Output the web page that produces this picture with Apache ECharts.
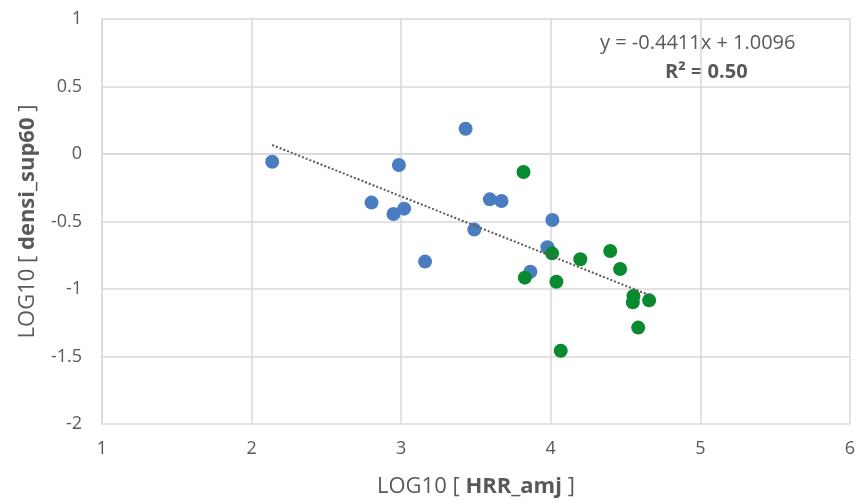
<!DOCTYPE html>
<html>
<head>
<meta charset="utf-8">
<script src="https://cdn.jsdelivr.net/npm/echarts@6/dist/echarts.min.js"></script>
<style>
  html, body { margin: 0; padding: 0; background: #fff; }
  #chart { width: 858px; height: 504px; }
</style>
</head>
<body>
<div id="chart"></div>
<script>
// Group 1 (blue)
const blueX = [2.138, 2.985, 3.431, 2.802, 2.949, 3.020, 3.593, 3.671, 3.489, 3.160, 3.864, 4.011, 3.978];
const blueY = [-0.057, -0.081, 0.187, -0.360, -0.444, -0.405, -0.336, -0.348, -0.560, -0.797, -0.872, -0.489, -0.691];
// Group 2 (green)
const greenX = [3.818, 4.009, 4.198, 4.398, 4.464, 3.827, 4.038, 4.553, 4.549, 4.658, 4.585, 4.067];
const greenY = [-0.133, -0.736, -0.780, -0.718, -0.852, -0.916, -0.946, -1.052, -1.099, -1.084, -1.286, -1.457];
// Linear fit over all points
const trendSlope = -0.4411;
const trendIntercept = 1.0096;
const trendR2 = 0.50;
// Axis ticks
const xTicks = [1, 2, 3, 4, 5, 6];
const yTicks = [-2, -1.5, -1, -0.5, 0, 0.5, 1];

const font = '"Open Sans", "Noto Sans", sans-serif';
const grey = '#595959';
const gridColor = '#d9d9d9';

const allX = blueX.concat(greenX);
const xMin = Math.min(...allX), xMax = Math.max(...allX);
const trendData = [xMin, xMax].map(x => [x, trendSlope * x + trendIntercept]);

const titleRich = {
  n: { fontSize: 22, color: grey, fontFamily: font },
  b: { fontSize: 22, color: grey, fontWeight: 'bold', fontFamily: font }
};

const chart = echarts.init(document.getElementById('chart'));
chart.setOption({
  animation: false,
  textStyle: { fontFamily: font },
  grid: { left: 102, top: 19, width: 750, height: 405 },
  xAxis: {
    type: 'value',
    min: xTicks[0], max: xTicks[xTicks.length - 1], interval: 1,
    axisLine: { show: true, lineStyle: { color: gridColor, width: 1.5 } },
    axisTick: { show: false },
    splitLine: { show: true, lineStyle: { color: gridColor, width: 1.5 } },
    axisLabel: { color: grey, fontSize: 18, margin: 16, fontFamily: font },
    name: '{n|LOG10 [ }{b|HRR_amj}{n| ]}',
    nameLocation: 'middle',
    nameGap: 52,
    nameTextStyle: { rich: titleRich }
  },
  yAxis: {
    type: 'value',
    min: yTicks[0], max: yTicks[yTicks.length - 1], interval: 0.5,
    axisLine: { show: true, lineStyle: { color: gridColor, width: 1.5 } },
    axisTick: { show: false },
    splitLine: { show: true, lineStyle: { color: gridColor, width: 1.5 } },
    axisLabel: { color: grey, fontSize: 18, margin: 20, fontFamily: font },
    name: '{n|LOG10 [ }{b|densi_sup60}{n| ]}',
    nameLocation: 'middle',
    nameGap: 63,
    nameTextStyle: { rich: titleRich }
  },
  series: [
    {
      type: 'scatter',
      symbolSize: 14,
      itemStyle: { color: '#4A7DC0', opacity: 1 },
      data: blueX.map((x, i) => [x, blueY[i]]),
      z: 2
    },
    {
      type: 'scatter',
      symbolSize: 14,
      itemStyle: { color: '#0A8A2E', opacity: 1 },
      data: greenX.map((x, i) => [x, greenY[i]]),
      z: 3
    },
    {
      type: 'line',
      data: trendData,
      symbol: 'none',
      lineStyle: { color: '#595959', width: 2, type: 'dotted' },
      z: 4
    }
  ],
  graphic: [
    {
      type: 'text',
      left: 600, top: 33,
      style: {
        text: 'y = ' + trendSlope.toFixed(4) + 'x + ' + trendIntercept.toFixed(4),
        fill: grey, font: '20px ' + font
      }
    },
    {
      type: 'text',
      left: 665, top: 62,
      style: {
        text: 'R² = ' + trendR2.toFixed(2),
        fill: grey, font: 'bold 20px ' + font
      }
    }
  ]
});
</script>
</body>
</html>
